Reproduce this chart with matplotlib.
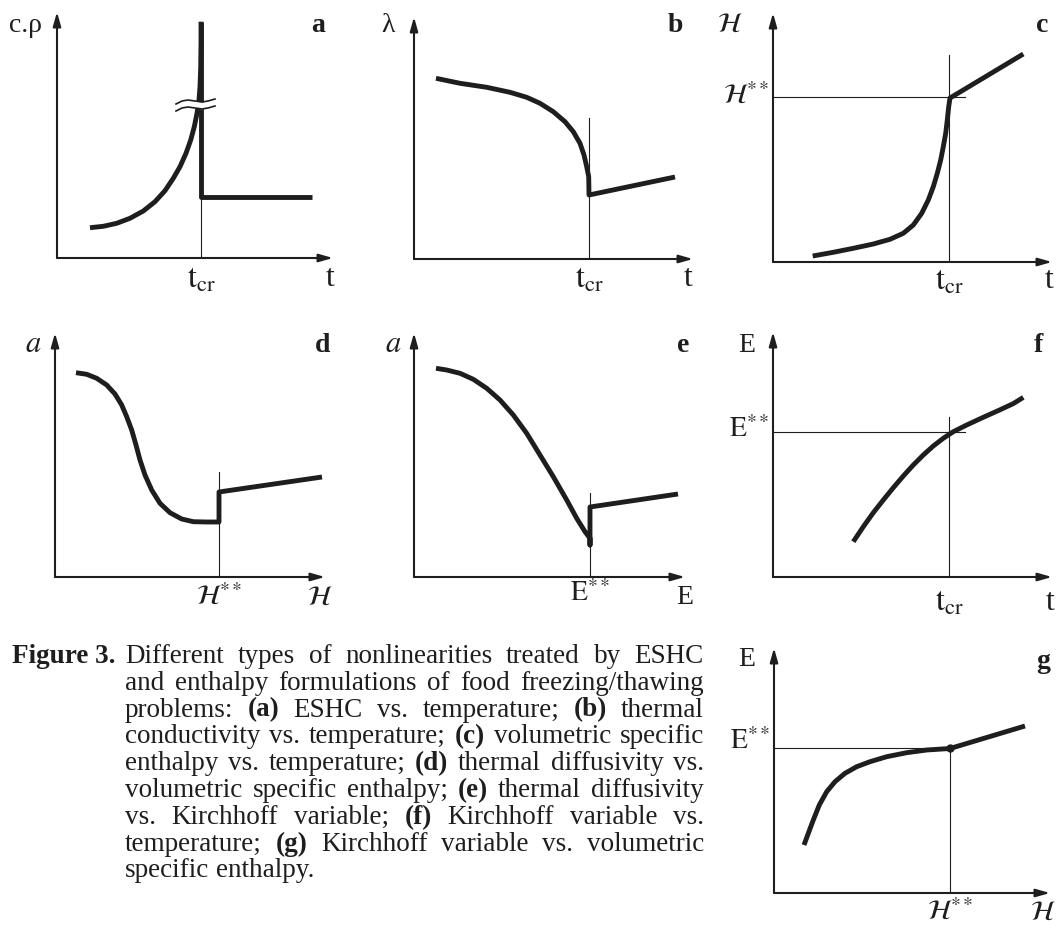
import matplotlib
matplotlib.use("Agg")
import matplotlib.pyplot as plt

plt.rcParams['mathtext.fontset'] = 'stix'
plt.rcParams['font.family'] = ['Liberation Serif', 'DejaVu Serif']

INK = '#1e1e1e'
THICK = 3.5
THIN = 0.8

# (a) ESHC vs. temperature
a_curve_x = [33, 46.3, 59.7, 73, 86.3, 98, 108, 116.3, 123, 129, 133.7, 137.3,
             140, 142, 143, 143.7, 144, 144]
a_curve_y = [30.3, 31.7, 34.7, 39.7, 47, 56.3, 67.3, 79.7, 91.3, 104.7, 118,
             131.3, 144.7, 158, 171.3, 191.3, 214.7, 236.3]
a_tcr = 144
a_top = 236
a_liquid = 61
a_end = 255

# (b) thermal conductivity vs. temperature
b_curve_x = [22, 46, 72.7, 96, 112.7, 126, 139.3, 151, 159.3, 166, 170, 172.7,
             174.7, 175, 261]
b_curve_y = [180.7, 175.7, 171.7, 166.7, 161.7, 155.7, 147.3, 137.3, 127.3,
             115.7, 104, 92.3, 82.3, 64, 82]
b_tcr = 175
b_tcr_top = 141

# (c) volumetric specific enthalpy vs. temperature
c_curve_x = [39.7, 60.3, 80.3, 100.3, 117, 130.3, 140.3, 148.7, 155.3, 160.3,
             164.3, 167.7, 170.3, 172.7, 174.3, 175.7, 177, 250.3]
c_curve_y = [6, 9.7, 13.7, 18, 22.7, 28.7, 37, 48.7, 62, 75.3, 88.7, 102,
             115.3, 128.7, 142, 155.3, 164, 208]
c_tcr = 176
c_tcr_top = 207
c_Hss = 165
c_Hss_end = 192

# (d) thermal diffusivity vs. volumetric specific enthalpy
d_curve_x = [21, 31.7, 41.7, 51.7, 60, 66.7, 71.7, 76.7, 81, 85, 90, 96.7,
             105, 115, 126.7, 138.3, 151.7, 164, 164, 267]
d_curve_y = [204.3, 202.7, 198.7, 192, 183, 172, 160.3, 147, 132, 117, 102,
             87, 73.7, 64.3, 58, 55.3, 55, 55, 85, 100]
d_Hss = 164
d_Hss_top = 105

# (e) thermal diffusivity vs. Kirchhoff variable
e_curve_x = [22, 32.7, 46, 59.3, 72.7, 86, 99.3, 112.7, 126, 139.3, 152.7,
             162.7, 171, 176, 176, 176, 264]
e_curve_y = [208.7, 207, 203.7, 197.7, 188.7, 177, 162, 143.7, 122, 100.3, 77,
             58.7, 45.3, 38.7, 32, 70, 83]
e_Ess = 176
e_Ess_top = 84

# (f) Kirchhoff variable vs. temperature
f_curve_x = [80.3, 90.3, 100.3, 110.3, 120.3, 130.3, 140.3, 150.3, 160.3,
             170.3, 180.3, 193.7, 210.3, 227, 240.3, 250.3]
f_curve_y = [35.3, 50.3, 64.3, 77, 89.3, 101, 112, 122, 131, 138.7, 145.3,
             152, 159.7, 167.2, 173.4, 179.6]
f_tcr = 176
f_tcr_top = 160
f_Ess = 145
f_Ess_end = 192

# (g) Kirchhoff variable vs. volumetric specific enthalpy
g_curve_x = [30, 34.3, 39.3, 45.3, 52.7, 61, 71, 82.7, 96, 112.7, 132.7,
             152.7, 176, 251]
g_curve_y = [48, 59.7, 73, 88, 101.3, 111.3, 119.7, 126.3, 131.3, 136.3,
             140.3, 143, 144.5, 167]
g_Hss = 176
g_Ess = 145

caption_lines = [
    "Different types of nonlinearities treated by ESHC",
    "and enthalpy formulations of food freezing/thawing",
    "problems: (a) ESHC vs. temperature; (b) thermal",
    "conductivity vs. temperature; (c) volumetric specific",
    "enthalpy vs. temperature; (d) thermal diffusivity vs.",
    "volumetric specific enthalpy; (e) thermal diffusivity",
    "vs. Kirchhoff variable; (f) Kirchhoff variable vs.",
    "temperature; (g) Kirchhoff variable vs. volumetric",
    "specific enthalpy.",
]

W, H = 1059, 927
fig = plt.figure(figsize=(W / 100, H / 100), dpi=100)


def make_panel(ox, oy, w, h):
    ax = fig.add_axes([ox / W, 1 - oy / H, w / W, h / H])
    ax.set_xlim(0, w)
    ax.set_ylim(0, h)
    ax.axis('off')
    for tip in [(1, 0), (0, 1)]:
        ax.annotate('', xy=tip, xytext=(0, 0), xycoords='axes fraction',
                    arrowprops=dict(arrowstyle='-|>,head_length=0.6,head_width=0.17',
                                    lw=1.5, color=INK, shrinkA=0, shrinkB=0,
                                    mutation_scale=14))
    return ax


def label(ax, x, y, s, size=20, weight='normal', ha='center', va='center'):
    ax.text(x, y, s, fontsize=size, fontweight=weight, ha=ha, va=va,
            color=INK, clip_on=False)


def thick(ax, xs, ys):
    ax.plot(xs, ys, color=INK, lw=THICK, solid_joinstyle='round',
            solid_capstyle='butt')


def thin(ax, xs, ys):
    ax.plot(xs, ys, color=INK, lw=THIN)


TCR = r'$\mathrm{t}_{\mathrm{cr}}$'
HSS = r'$\mathcal{H}^{**}$'
ESS = r'$\mathrm{E}^{**}$'

# ---- panel a
ax = make_panel(57, 258, 276, 246)
thick(ax, a_curve_x, a_curve_y)
thick(ax, [a_tcr, a_tcr, a_end], [a_top, a_liquid, a_liquid])
thin(ax, [a_tcr, a_tcr], [0, a_liquid])
# axis break mark
bx = [119, 125, 131, 138, 145, 151, 158]
bw = [-3, 0, 1, 0, -1, 0, 2]
ax.fill_between(bx, [150 + v for v in bw], [157 + v for v in bw],
                color='white', zorder=3, lw=0)
ax.plot(bx, [150 + v for v in bw], color=INK, lw=1.2, zorder=4)
ax.plot(bx, [157 + v for v in bw], color=INK, lw=1.2, zorder=4)
label(ax, -32, 233, 'c.ρ')
label(ax, 261, 233, 'a', weight='bold')
label(ax, 273, -20, 't', size=23)
label(ax, a_tcr, -22, TCR, size=23)

# ---- panel b
ax = make_panel(414, 259, 279, 242)
thick(ax, b_curve_x, b_curve_y)
thin(ax, [b_tcr, b_tcr], [0, b_tcr_top])
label(ax, -26, 234, 'λ')
label(ax, 261, 234, 'b', weight='bold')
label(ax, 274, -19, 't', size=23)
label(ax, b_tcr, -21, TCR, size=23)

# ---- panel c
ax = make_panel(773, 262, 279, 249)
thin(ax, [c_tcr, c_tcr], [0, c_tcr_top])
thin(ax, [0, c_Hss_end], [c_Hss, c_Hss])
thick(ax, c_curve_x, c_curve_y)
label(ax, -43, 237, r'$\mathcal{H}$')
label(ax, 269, 237, 'c', weight='bold')
label(ax, 276, -18, 't', size=23)
label(ax, c_tcr, -20, TCR, size=23)
label(ax, -4, c_Hss, HSS, ha='right')

# ---- panel d
ax = make_panel(55, 577, 270, 244)
thick(ax, d_curve_x, d_curve_y)
thin(ax, [d_Hss, d_Hss], [0, d_Hss_top])
label(ax, -22, 232, r'$a$', size=22)
label(ax, 268, 232, 'd', weight='bold')
label(ax, 265, -21, r'$\mathcal{H}$')
label(ax, d_Hss, -21, HSS)

# ---- panel e
ax = make_panel(414, 577, 271, 244)
thick(ax, e_curve_x, e_curve_y)
thin(ax, [e_Ess, e_Ess], [0, e_Ess_top])
label(ax, -21, 232, r'$a$', size=22)
label(ax, 269, 232, 'e', weight='bold')
label(ax, 271, -21, 'E')
label(ax, e_Ess, -17, ESS)

# ---- panel f
ax = make_panel(773, 577, 279, 245)
thin(ax, [f_tcr, f_tcr], [0, f_tcr_top])
thin(ax, [0, f_Ess_end], [f_Ess, f_Ess])
thick(ax, f_curve_x, f_curve_y)
label(ax, -26, 232, 'E')
label(ax, 265, 232, 'f', weight='bold')
label(ax, 277, -26, 't', size=23)
label(ax, f_tcr, -26, TCR, size=23)
label(ax, -4, 147, ESS, ha='right')

# ---- panel g
ax = make_panel(774, 893, 276, 245)
thin(ax, [g_Hss, g_Hss], [0, g_Ess])
thin(ax, [0, g_Hss], [g_Ess, g_Ess])
thick(ax, g_curve_x, g_curve_y)
ax.plot([g_Hss], [g_Ess], 'o', color=INK, ms=5)
label(ax, -27, 233, 'E')
label(ax, 269, 231, 'g', weight='bold')
label(ax, 269, -20, r'$\mathcal{H}$')
label(ax, g_Hss, -20, HSS)
label(ax, -4, 151, ESS, ha='right')

# ---- caption, justified between x=125 and x=704
CAP_SIZE = 19.5
left, right = 125, 704
base0, step = 663, 26.8
renderer = fig.canvas.get_renderer()
fig.text(116 / W, 1 - base0 / H, 'Figure 3.', fontsize=CAP_SIZE,
         fontweight='bold', ha='right', va='baseline', color=INK)
for i, line in enumerate(caption_lines):
    y = 1 - (base0 + i * step) / H
    words = line.split(' ')
    texts = []
    for wd in words:
        bold = len(wd) == 3 and wd[0] == '(' and wd[2] == ')'
        texts.append(fig.text(0, y, wd, fontsize=CAP_SIZE, va='baseline',
                              fontweight='bold' if bold else 'normal', color=INK))
    widths = [t.get_window_extent(renderer).width for t in texts]
    if i < len(caption_lines) - 1:
        gap = (right - left - sum(widths)) / (len(words) - 1)
    else:
        gap = CAP_SIZE * 100 / 72 * 0.25
    x = left
    for t, wdt in zip(texts, widths):
        t.set_x(x / W)
        x += wdt + gap

fig.savefig('out.png', dpi=100, facecolor='white')
